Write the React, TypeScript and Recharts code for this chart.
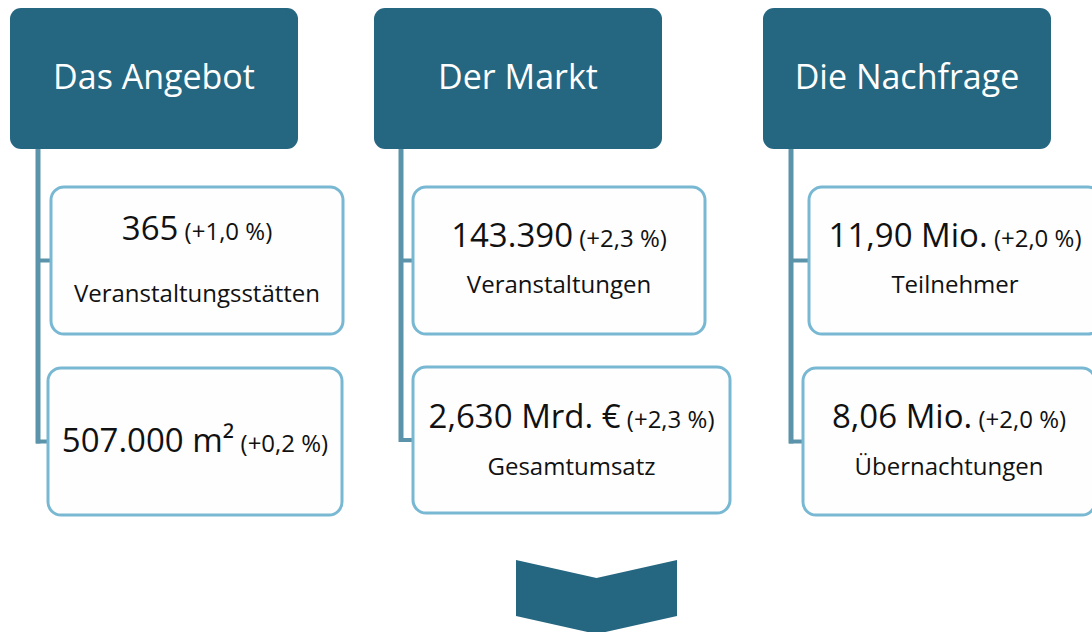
import React from 'react';
import { ScatterChart, Scatter, XAxis, YAxis } from 'recharts';

// ---------- DATA ----------
const headers = ['Das Angebot', 'Der Markt', 'Die Nachfrage'];
const kpiGroup = [0, 0, 1, 1, 2, 2];
const kpiValues = ['365', '507.000 m²', '143.390', '2,630 Mrd. €', '11,90 Mio.', '8,06 Mio.'];
const kpiChanges = ['(+1,0 %)', '(+0,2 %)', '(+2,3 %)', '(+2,3 %)', '(+2,0 %)', '(+2,0 %)'];
const kpiLabels = ['Veranstaltungsstätten', '', 'Veranstaltungen', 'Gesamtumsatz', 'Teilnehmer', 'Übernachtungen'];

// ---------- LAYOUT (pixel space of the diagram) ----------
const W = 1092;
const H = 632;
const headerLayout = [
  { left: 10, top: 8, width: 288, height: 141, trunk: 38 },
  { left: 374, top: 8, width: 288, height: 141, trunk: 401 },
  { left: 763, top: 8, width: 288, height: 141, trunk: 791 },
];
const kpiLayout = [
  { left: 51, top: 187, width: 292, height: 147, valueDy: 53, labelDy: 115 },
  { left: 48, top: 368, width: 294, height: 147, valueDy: 84, labelDy: 0 },
  { left: 413, top: 187, width: 292, height: 147, valueDy: 60, labelDy: 106 },
  { left: 413, top: 367, width: 317, height: 146, valueDy: 61, labelDy: 108 },
  { left: 809, top: 187, width: 292, height: 147, valueDy: 60, labelDy: 106 },
  { left: 803, top: 368, width: 292, height: 147, valueDy: 60, labelDy: 107 },
];
const chevronLayout = [{ left: 516, right: 677, top: 560, bottom: 616, notch: 18 }];

// ---------- STYLE ----------
const HEADER_FILL = '#256680';
const BOX_STROKE = '#78b8d3';
const LINK = '#5b94aa';
const FONT = '"Open Sans", "Noto Sans", sans-serif';

const kpiData = kpiValues.map((v, i) => {
  const l = kpiLayout[i];
  return {
    x: l.left + l.width / 2,
    y: l.top + l.height / 2,
    value: v,
    change: kpiChanges[i],
    label: kpiLabels[i],
    group: kpiGroup[i],
    ...l,
  };
});

const headerData = headers.map((h, i) => {
  const l = headerLayout[i];
  const kids = kpiData.filter((k) => k.group === i);
  return { x: l.left + l.width / 2, y: l.top + l.height / 2, title: h, kids, ...l };
});

const chevronData = chevronLayout.map((c) => ({ x: (c.left + c.right) / 2, y: (c.top + c.bottom) / 2, ...c }));

const HeaderShape = (props: any) => {
  const p = props.payload;
  const { cx, cy } = props;
  const left = cx - p.width / 2;
  const top = cy - p.height / 2;
  const bottom = top + p.height;
  const lastY = p.kids.length ? p.kids[p.kids.length - 1].y : bottom;
  return (
    <g>
      <line x1={p.trunk} y1={bottom} x2={p.trunk} y2={lastY + 2} stroke={LINK} strokeWidth={5} />
      {p.kids.map((k: any, j: number) => (
        <line key={j} x1={p.trunk - 2} y1={k.y} x2={k.left} y2={k.y} stroke={LINK} strokeWidth={4} />
      ))}
      <rect x={left} y={top} width={p.width} height={p.height} rx={11} ry={11} fill={HEADER_FILL} />
      <text x={cx} y={top + 81} textAnchor="middle" fill="#ffffff" fontSize={34} fontFamily={FONT}>
        {p.title}
      </text>
    </g>
  );
};

const KpiShape = (props: any) => {
  const p = props.payload;
  const { cx } = props;
  return (
    <g>
      <rect
        x={p.left}
        y={p.top}
        width={p.width}
        height={p.height}
        rx={13}
        ry={13}
        fill="#fefefe"
        stroke={BOX_STROKE}
        strokeWidth={3}
      />
      <text x={cx} y={p.top + p.valueDy} textAnchor="middle" fill="#111111" fontFamily={FONT}>
        <tspan fontSize={33}>{p.value}</tspan>
        <tspan fontSize={24}>{' ' + p.change}</tspan>
      </text>
      {p.label ? (
        <text x={cx} y={p.top + p.labelDy} textAnchor="middle" fill="#111111" fontSize={24} fontFamily={FONT}>
          {p.label}
        </text>
      ) : null}
    </g>
  );
};

const ChevronShape = (props: any) => {
  const p = props.payload;
  const { cx } = props;
  const pts = [
    [p.left, p.top],
    [cx, p.top + p.notch],
    [p.right, p.top],
    [p.right, p.bottom],
    [cx, p.bottom + p.notch],
    [p.left, p.bottom],
  ]
    .map((q) => q.join(','))
    .join(' ');
  return <polygon points={pts} fill={HEADER_FILL} />;
};

export default function App() {
  return (
    <div style={{ position: 'fixed', left: 0, top: 0, width: W, height: H, background: '#ffffff' }}>
      <ScatterChart width={W} height={H} margin={{ top: 0, right: 0, bottom: 0, left: 0 }}>
        <XAxis type="number" dataKey="x" domain={[0, W]} hide allowDataOverflow />
        <YAxis type="number" dataKey="y" domain={[0, H]} reversed hide allowDataOverflow />
        <Scatter data={headerData} shape={HeaderShape} isAnimationActive={false} />
        <Scatter data={kpiData} shape={KpiShape} isAnimationActive={false} />
        <Scatter data={chevronData} shape={ChevronShape} isAnimationActive={false} />
      </ScatterChart>
    </div>
  );
}
